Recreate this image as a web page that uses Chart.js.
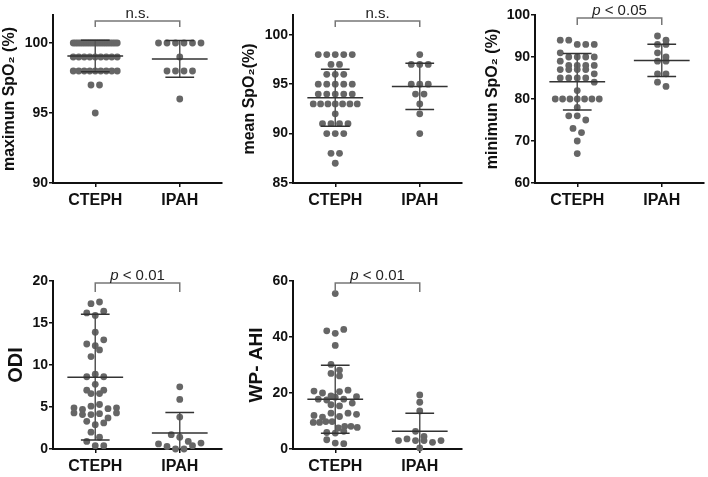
<!DOCTYPE html>
<html>
<head>
<meta charset="utf-8">
<script src="https://cdn.jsdelivr.net/npm/chart.js@4.4.1/dist/chart.umd.min.js"></script>
<style>
  html, body { margin: 0; padding: 0; background: #fff; }
  #wrap { position: relative; width: 708px; height: 477px; overflow: hidden; }
  canvas { position: absolute; }
</style>
</head>
<body>
<div id="wrap">
  <canvas id="c1" width="230" height="240" style="left:0;top:0"></canvas>
  <canvas id="c2" width="230" height="240" style="left:240px;top:0"></canvas>
  <canvas id="c3" width="238" height="240" style="left:470px;top:0"></canvas>
  <canvas id="c4" width="230" height="237" style="left:0;top:240px"></canvas>
  <canvas id="c5" width="230" height="237" style="left:240px;top:240px"></canvas>
</div>
<script>
const groups = ["CTEPH", "IPAH"];

// maximum SpO2 (%)
const maxCteph = [100, 100, 100, 100, 100, 100, 100, 100, 100, 100, 100, 100, 100, 100, 100, 100, 100, 100, 100, 100,
    99, 99, 99, 99, 99, 99, 99, 99, 99, 98, 98, 98, 98, 98, 98, 98, 98, 98, 97, 97, 95];
const maxIpah = [100, 100, 100, 100, 100, 100, 99, 98, 98, 98, 98, 96];
const maxStats = [[99.07, 1.12], [98.86, 1.31]];   // [mean, SD]

// mean SpO2 (%)
const meanCteph = [98, 98, 98, 98, 98, 97, 97, 96, 96, 96, 95, 95, 95, 95, 95, 94, 94, 94, 94, 94,
    93, 93, 93, 93, 93, 93, 93, 92, 91, 91, 91, 91, 90, 90, 90, 88, 88, 87];
const meanIpah = [98, 97, 97, 97, 95, 95, 95, 94, 94, 93, 92, 90];
const meanStats = [[93.63, 2.88], [94.77, 2.34]];

// minimum SpO2 (%)
const minCteph = [94, 94, 93, 93, 93, 91, 90, 90, 90, 90, 89, 88, 88, 88, 88, 87, 87, 87, 87, 86, 85, 85, 85, 85,
    84, 82, 80, 80, 80, 80, 80, 80, 80, 78, 76, 76, 75, 73, 72, 70, 67];
const minIpah = [95, 94, 93, 93, 91, 90, 89, 89, 86, 86, 84, 83];
const minStats = [[84.12, 6.74], [89.17, 3.84]];

// ODI
const odiCteph = [17.3, 17.5, 16.2, 15.9, 16.4, 13.9, 12.5, 12.3, 13.0, 11.0, 11.8, 8.6, 8.9, 8.6, 7.0, 7.7, 7.0,
    6.6, 6.6, 4.9, 4.7, 5.1, 5.3, 4.8, 4.9, 4.3, 4.1, 4.1, 4.2, 3.7, 4.3, 3.3, 2.9, 3.1, 2.0, 1.4, 0.9, 0.4, 0.4];
const odiIpah = [7.4, 5.9, 3.8, 1.7, 1.4, 0.9, 0.6, 0.3, 0.0, 0.0, 0.4, 0.7];
const odiStats = [[8.55, 7.49], [1.9, 2.45]];

// WP- AHI
const wpCteph = [55.5, 42.2, 41.3, 42.7, 37.0, 30.2, 28.2, 27.0, 26.1, 20.7, 20.0, 19.0, 20.5, 21.0, 17.8, 17.5,
    18.7, 18.5, 17.8, 15.8, 16.4, 15.4, 12.0, 11.4, 12.8, 11.6, 12.8, 12.4, 9.5, 9.5, 9.8, 9.8, 7.5, 8.1, 8.1, 7.7,
    5.9, 5.7, 6.3, 3.3, 2.1, 1.9];
const wpIpah = [19.3, 16.7, 13.6, 6.3, 3.0, 3.6, 3.0, 4.5, 3.0, 2.4, 3.0, 0.4];
const wpStats = [[17.8, 12.15], [6.3, 6.5]];

const FONT = "Arial, 'Liberation Sans', sans-serif";
const INK = "#111";
const DOT = "#666";

// spread points of one group sideways in rows, like a prism dot plot
const swarmPlugin = {
    id: "swarm",
    afterDatasetsUpdate(chart) {
        const rowH = 7, gap = 8.5, maxW = 44;
        chart.data.datasets.forEach((ds, di) => {
            const els = chart.getDatasetMeta(di).data;
            const order = els.map((e, i) => i).sort((a, b) => els[a].y - els[b].y);
            const rows = [];
            let row = [];
            order.forEach(i => {
                if (row.length && els[i].y - els[row[0]].y >= rowH) { rows.push(row); row = []; }
                row.push(i);
            });
            if (row.length) rows.push(row);
            rows.forEach(r => {
                r.sort((a, b) => a - b);
                const step = r.length > 1 ? Math.min(gap, maxW / (r.length - 1)) : 0;
                r.forEach((i, k) => { els[i].x += (k - (r.length - 1) / 2) * step; });
            });
        });
    }
};

const meanSdPlugin = {
    id: "meanSd",
    afterDatasetsDraw(chart, args, opts) {
        const { ctx, scales: { x, y } } = chart;
        ctx.save();
        ctx.lineWidth = 1.5;
        opts.stats.forEach(([m, sd], i) => {
            const cx = x.getPixelForValue(i);
            const half = x.getPixelForValue(i + 0.33) - cx;
            const cap = x.getPixelForValue(i + 0.17) - cx;
            const hiV = Math.min(m + sd, y.max), loV = Math.max(m - sd, y.min);
            const ym = y.getPixelForValue(m), yh = y.getPixelForValue(hiV), yl = y.getPixelForValue(loV);
            ctx.strokeStyle = "#555";
            ctx.beginPath();
            ctx.moveTo(cx, yh); ctx.lineTo(cx, yl);
            ctx.stroke();
            ctx.strokeStyle = "#333";
            ctx.beginPath();
            ctx.moveTo(cx - half, ym); ctx.lineTo(cx + half, ym);
            if (m + sd <= y.max) { ctx.moveTo(cx - cap, yh); ctx.lineTo(cx + cap, yh); }
            if (m - sd >= y.min) { ctx.moveTo(cx - cap, yl); ctx.lineTo(cx + cap, yl); }
            ctx.stroke();
        });
        ctx.restore();
    }
};

const bracketPlugin = {
    id: "bracket",
    afterDraw(chart, args, opts) {
        const { ctx, chartArea, scales: { x } } = chart;
        const x0 = x.getPixelForValue(0), x1 = x.getPixelForValue(1);
        const yb = chartArea.top + opts.offset;
        ctx.save();
        ctx.strokeStyle = "#777";
        ctx.lineWidth = 1.5;
        ctx.beginPath();
        ctx.moveTo(x0, yb + opts.drop); ctx.lineTo(x0, yb); ctx.lineTo(x1, yb); ctx.lineTo(x1, yb + opts.drop);
        ctx.stroke();
        ctx.fillStyle = "#222";
        ctx.textBaseline = "alphabetic";
        ctx.textAlign = "left";
        const italic = `italic 15px ${FONT}`, normal = `15px ${FONT}`;
        ctx.font = italic;
        const wi = opts.italic ? ctx.measureText(opts.italic).width : 0;
        ctx.font = normal;
        const wr = ctx.measureText(opts.rest).width;
        let tx = (x0 + x1) / 2 - (wi + wr) / 2;
        const ty = yb - 3;
        if (opts.italic) {
            ctx.font = italic;
            ctx.fillText(opts.italic, tx, ty);
            tx += wi;
        }
        ctx.font = normal;
        ctx.fillText(opts.rest, tx, ty);
        ctx.restore();
    }
};

const panels = [
    { id: "c1", values: [maxCteph, maxIpah], stats: maxStats, min: 90, max: 102, step: 5,
      title: "maximun SpO₂ (%)", titleSize: 16, titlePad: 0, yW: 53, top: 15, padR: 8, xH: 57,
      note: { italic: "", rest: "n.s.", offset: 6, drop: 6 } },
    { id: "c2", values: [meanCteph, meanIpah], stats: meanStats, min: 85, max: 102, step: 5,
      title: "mean SpO₂(%)", titleSize: 16, titlePad: 0, yW: 53, top: 15, padR: 8, xH: 57,
      note: { italic: "", rest: "n.s.", offset: 6, drop: 6 } },
    { id: "c3", values: [minCteph, minIpah], stats: minStats, min: 60, max: 100, step: 10,
      title: "minimun SpO₂ (%)", titleSize: 16, titlePad: 13, yW: 65, top: 15, padR: 3, xH: 57,
      note: { italic: "p", rest: " < 0.05", offset: 3, drop: 7 } },
    { id: "c4", values: [odiCteph, odiIpah], stats: odiStats, min: 0, max: 20, step: 5,
      title: "ODI", titleSize: 20, titlePad: 4, yW: 53, top: 41, padR: 8, xH: 28,
      note: { italic: "p", rest: " < 0.01", offset: 2, drop: 9 } },
    { id: "c5", values: [wpCteph, wpIpah], stats: wpStats, min: 0, max: 60, step: 20,
      title: "WP- AHI", titleSize: 19, titlePad: 5, yW: 53, top: 41, padR: 8, xH: 28,
      note: { italic: "p", rest: " < 0.01", offset: 2, drop: 9 } },
];

function makeChart(p) {
    const datasets = p.values.map((vals, gi) => ({
        data: vals.map(v => ({ x: gi, y: v })),
        pointRadius: 3.4,
        pointBackgroundColor: DOT,
        pointBorderWidth: 0,
        clip: false,
    }));
    return new Chart(document.getElementById(p.id), {
        type: "scatter",
        data: { datasets },
        options: {
            responsive: false,
            animation: false,
            events: [],
            layout: { padding: { top: p.top, right: p.padR, left: 0, bottom: 0 } },
            plugins: {
                legend: { display: false },
                tooltip: { enabled: false },
                meanSd: { stats: p.stats },
                bracket: p.note,
            },
            scales: {
                x: {
                    type: "linear",
                    min: -0.5,
                    max: 1.5,
                    afterBuildTicks: s => { s.ticks = [{ value: 0 }, { value: 1 }]; },
                    afterFit: s => { s.height = p.xH; },
                    ticks: {
                        callback: v => groups[v],
                        color: INK,
                        font: { family: FONT, size: 16, weight: "bold" },
                        padding: 4,
                        maxRotation: 0,
                        autoSkip: false,
                    },
                    grid: { drawOnChartArea: false, tickLength: 4, color: INK, lineWidth: 1.5 },
                    border: { color: INK, width: 2 },
                },
                y: {
                    min: p.min,
                    max: p.max,
                    afterFit: s => { s.width = p.yW; },
                    ticks: {
                        stepSize: p.step,
                        includeBounds: false,
                        color: INK,
                        font: { family: FONT, size: 14, weight: "bold" },
                        padding: 1,
                    },
                    grid: { drawOnChartArea: false, tickLength: 4, color: INK, lineWidth: 1.5 },
                    border: { color: INK, width: 2 },
                    title: {
                        display: true,
                        text: p.title,
                        color: INK,
                        font: { family: FONT, size: p.titleSize, weight: "bold" },
                        padding: { top: p.titlePad, bottom: 0 },
                    },
                },
            },
        },
        plugins: [swarmPlugin, meanSdPlugin, bracketPlugin],
    });
}

panels.forEach(makeChart);
</script>
</body>
</html>
